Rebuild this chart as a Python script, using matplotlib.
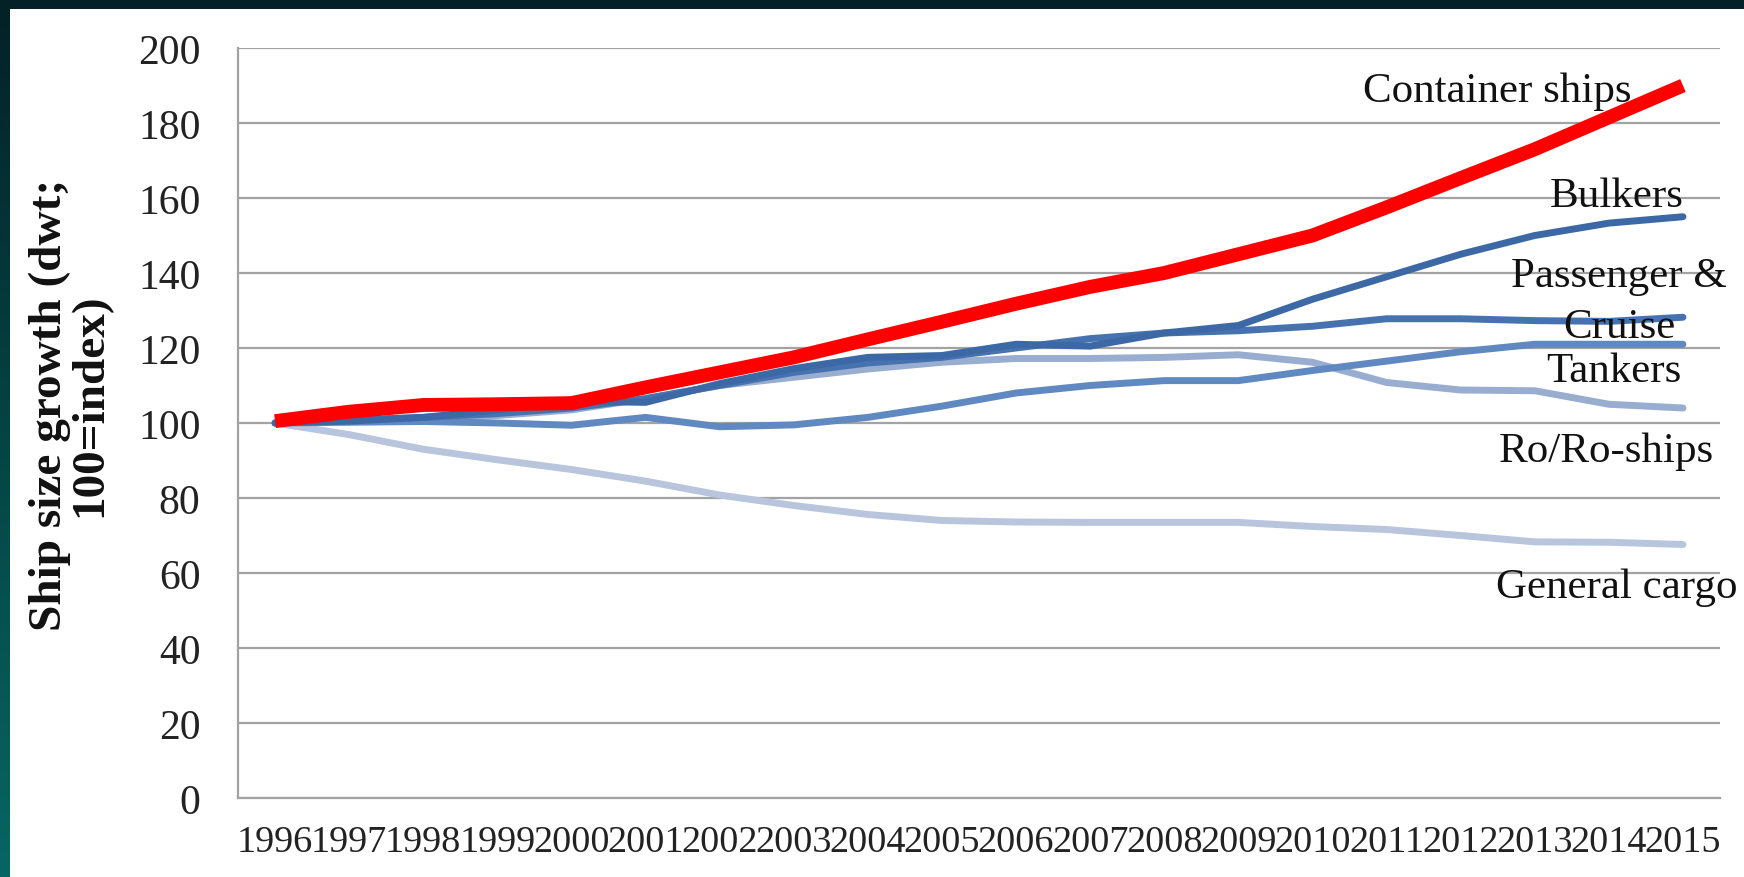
import numpy as np
import matplotlib
matplotlib.use("Agg")
import matplotlib.pyplot as plt
from matplotlib.patches import Rectangle

# ---- data -------------------------------------------------------------
years = [str(y) for y in range(1996, 2016)]

container_ships = [100.5, 103.0, 104.8, 105.0, 105.3, 109.5, 113.5, 117.5, 122.3, 127.0,
                   131.8, 136.3, 140.0, 145.0, 150.0, 157.5, 165.3, 173.0, 181.5, 190.0]
bulkers = [100.0, 100.5, 101.5, 103.5, 105.8, 105.5, 110.5, 114.5, 117.5, 118.0,
           121.0, 120.5, 124.0, 126.0, 133.0, 139.0, 145.0, 150.0, 153.3, 155.0]
passenger_cruise = [100.0, 100.8, 101.5, 102.5, 104.0, 106.5, 110.0, 113.5, 116.0, 117.5,
                    120.0, 122.5, 124.0, 124.6, 125.8, 127.8, 127.8, 127.3, 127.1, 128.2]
tankers = [100.0, 100.2, 100.4, 100.0, 99.4, 101.5, 99.0, 99.5, 101.5, 104.5,
           108.0, 110.0, 111.3, 111.3, 114.0, 116.5, 119.0, 121.0, 121.0, 121.0]
roro_ships = [100.0, 100.5, 101.0, 102.0, 103.5, 106.5, 110.0, 112.2, 114.4, 116.2,
              117.2, 117.2, 117.5, 118.2, 116.2, 110.8, 108.8, 108.6, 105.0, 104.0]
general_cargo = [100.0, 96.9, 93.0, 90.2, 87.6, 84.5, 80.8, 78.0, 75.6, 74.0,
                 73.6, 73.5, 73.5, 73.5, 72.4, 71.6, 70.0, 68.3, 68.2, 67.6]

y_ticks = [0, 20, 40, 60, 80, 100, 120, 140, 160, 180, 200]
y_label = "Ship size growth (dwt;\n100=index)"

# ---- styling ----------------------------------------------------------
SERIF = ["Liberation Serif", "DejaVu Serif"]
GRID = "#A3A3A3"
RED = "#FF0000"

# series drawn back to front: (values, colour, width, end label lines)
series = [
    (general_cargo, "#B9C5DD", 5.0, ["General cargo"]),
    (roro_ships, "#99ADD1", 5.0, ["Ro/Ro-ships"]),
    (tankers, "#6088C1", 5.0, ["Tankers"]),
    (passenger_cruise, "#4673B0", 5.0, ["Passenger &", "Cruise"]),
    (bulkers, "#3C69A6", 5.0, ["Bulkers"]),
    (container_ships, RED, 10.0, ["Container ships"]),
]

# end-label anchors: (category position, value at the text baseline)
label_place = {
    "General cargo": (18.10, 53.6),
    "Ro/Ro-ships": (17.96, 89.9),
    "Tankers": (18.07, 111.2),
    "Passenger &": (18.14, 136.5),
    "Cruise": (18.14, 122.9),
    "Bulkers": (18.10, 157.9),
    "Container ships": (16.50, 185.9),
}

W, H, DPI = 1744, 878, 100
fig = plt.figure(figsize=(W / DPI, H / DPI), dpi=DPI)

# dark frame along the top and left edges
bg = fig.add_axes([0, 0, 1, 1], zorder=-10)
top_c = np.array([0x03, 0x21, 0x27]) / 255
bot_c = np.array([0x08, 0x66, 0x62]) / 255
t = np.linspace(0, 1, 256)[:, None, None]
grad = top_c * (1 - t) + bot_c * t
bg.imshow(np.repeat(grad, 2, axis=1), aspect="auto", extent=[0, 1, 0, 1],
          origin="upper")
bg.add_patch(Rectangle((10 / W, 0), 1, 1 - 10 / H, transform=bg.transAxes,
                       facecolor="white", edgecolor="none"))
bg.set_xlim(0, 1)
bg.set_ylim(0, 1)
bg.axis("off")

ax = fig.add_axes([238 / W, 1 - 799 / H, (1720 - 238) / W, (799 - 49) / H])
ax.set_facecolor("none")

x = np.arange(len(years))
for values, color, lw, labels in series:
    cap = "butt" if color == RED else "round"
    ax.plot(x, values, color=color, lw=lw, solid_capstyle=cap,
            solid_joinstyle="round", zorder=3)
    for name in labels:
        lx, ly = label_place[name]
        ax.text(lx, ly, name, ha="center", va="baseline", fontsize=31,
                family=SERIF, color="#111111", zorder=4, clip_on=False)

ax.set_xlim(-0.5, len(years) - 0.5)
ax.set_ylim(0, 200)
ax.set_yticks(y_ticks)
ax.set_yticklabels([str(v) for v in y_ticks], family=SERIF, fontsize=30)
ax.set_xticks(x)
ax.set_xticklabels(years, family=SERIF, fontsize=27.5)
ax.tick_params(axis="y", length=0, pad=27, colors="#222222")
ax.tick_params(axis="x", length=0, pad=19, colors="#222222")

ax.grid(axis="y", color=GRID, lw=1.6, zorder=1)
ax.set_axisbelow(True)
for side in ("top", "right"):
    ax.spines[side].set_visible(False)
for side in ("left", "bottom"):
    ax.spines[side].set_color(GRID)
    ax.spines[side].set_linewidth(1.6)

# vertical two-line axis title
fig.text(70 / W, 1 - 405 / H, y_label, rotation=90, ha="center", va="center",
         family=SERIF, fontweight="bold", fontsize=34, linespacing=0.93,
         multialignment="center", color="#111111")

fig.savefig("out.png", dpi=DPI, facecolor="white")
